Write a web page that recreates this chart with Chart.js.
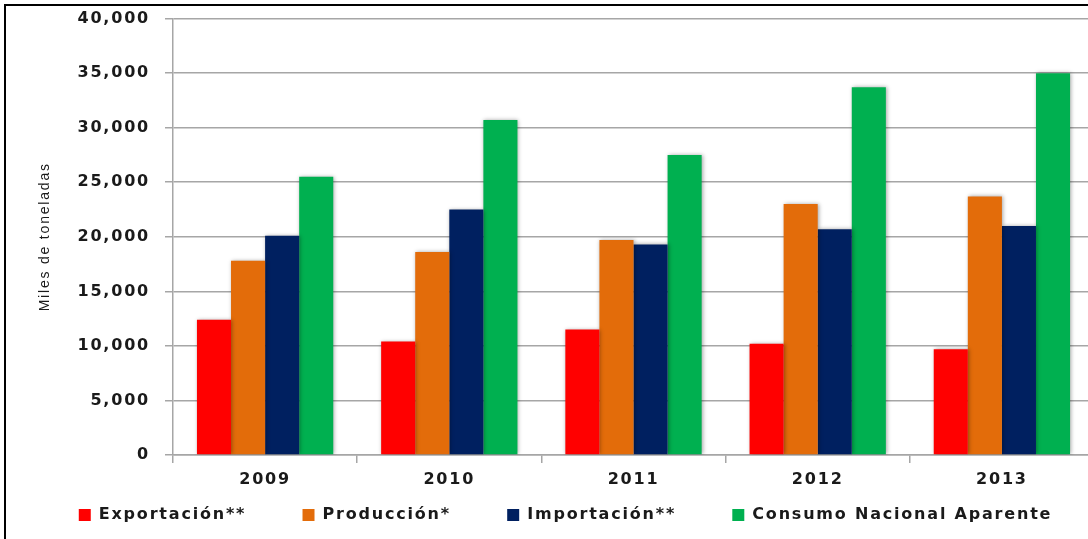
<!DOCTYPE html>
<html>
<head>
<meta charset="utf-8">
<script src="https://cdn.jsdelivr.net/npm/chart.js@4"></script>
<style>
  html, body { margin: 0; padding: 0; background: #fff; overflow: hidden; }
  #frame { position: absolute; left: 4px; top: 4px; width: 1200px; height: 600px; border: 2px solid #000; box-sizing: border-box; }
  #wrap { position: absolute; left: 0; top: -6px; width: 1100px; height: 545px; }
</style>
</head>
<body>
<div id="frame"></div>
<div id="wrap"><canvas id="chart"></canvas></div>
<script>
// años y series (miles de toneladas)
const years = ['2009', '2010', '2011', '2012', '2013'];
const exportacion = [12400, 10400, 11500, 10200, 9700];
const produccion = [17800, 18600, 19700, 23000, 23700];
const importacion = [20100, 22500, 19300, 20700, 21000];
const consumo = [25500, 30700, 27500, 33700, 35000];

const seriesNames = ['Exportación**', 'Producción*', 'Importación**', 'Consumo Nacional Aparente'];
const seriesColors = ['#ff0000', '#e36c0a', '#002060', '#00b050'];

// the original text is drawn wide, so space the letters out a bit
const wideText = {
    id: 'wideText',
    beforeLayout(chart) { chart.ctx.letterSpacing = '1.8px'; },
    beforeDraw(chart) { chart.ctx.letterSpacing = '1.8px'; }
};

// soft shadow behind the bars
const barShadow = {
    id: 'barShadow',
    beforeDatasetsDraw(chart) {
        const ctx = chart.ctx;
        ctx.save();
        ctx.shadowColor = 'rgba(0,0,0,0.35)';
        ctx.shadowBlur = 4;
        ctx.shadowOffsetX = 1;
    },
    afterDatasetsDraw(chart) {
        chart.ctx.restore();
    }
};

// trailing no-break spaces widen the gap between legend items
// without adding vertical room above the row
const legendGap = '\u00a0'.repeat(6);

const ctx = document.getElementById('chart').getContext('2d');
const chart = new Chart(ctx, {
    type: 'bar',
    data: {
        labels: years,
        datasets: [exportacion, produccion, importacion, consumo].map((d, i) => ({
            label: seriesNames[i],
            data: d,
            backgroundColor: seriesColors[i],
            borderWidth: 0,
            categoryPercentage: 0.74,
            barPercentage: 1.0
        }))
    },
    options: {
        responsive: true,
        maintainAspectRatio: false,
        animation: false,
        layout: { padding: { left: 37, top: 8, right: 6, bottom: 6 } },
        plugins: {
            tooltip: { enabled: false },
            legend: {
                position: 'bottom',
                labels: {
                    color: '#1a1a1a',
                    font: { family: 'DejaVu Sans', size: 16, weight: 'bold' },
                    boxWidth: 12,
                    boxHeight: 12,
                    padding: 12,
                    generateLabels: (c) => {
                        const items = Chart.defaults.plugins.legend.labels.generateLabels(c);
                        return items.map((item, i) => ({
                            ...item,
                            text: i < items.length - 1 ? item.text + legendGap : item.text
                        }));
                    }
                }
            }
        },
        scales: {
            x: {
                afterFit: (axis) => { axis.height = 40; },
                grid: { drawOnChartArea: false, color: '#a6a6a6', lineWidth: 1.5, tickLength: 8 },
                border: { color: '#a6a6a6', width: 1.5 },
                ticks: {
                    color: '#1a1a1a',
                    padding: 7,
                    font: { family: 'DejaVu Sans', size: 16, weight: 'bold' }
                }
            },
            y: {
                min: 0,
                max: 40000,
                afterFit: (axis) => { axis.width = 136; },
                grid: { color: '#a6a6a6', lineWidth: 1.5, tickLength: 8 },
                border: { color: '#a6a6a6', width: 1.5 },
                ticks: {
                    stepSize: 5000,
                    color: '#1a1a1a',
                    padding: 15,
                    font: { family: 'DejaVu Sans', size: 16, weight: 'bold' },
                    callback: (v) => v.toLocaleString('en-US')
                },
                title: {
                    display: true,
                    text: 'Miles de toneladas',
                    color: '#1a1a1a',
                    font: { family: 'Liberation Sans Narrow, Liberation Sans', size: 14 },
                    padding: 0
                }
            }
        }
    },
    plugins: [wideText, barShadow]
});
</script>
</body>
</html>
